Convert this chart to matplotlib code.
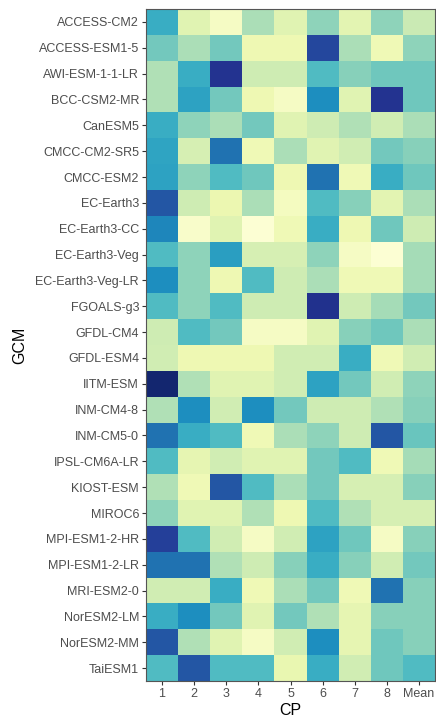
import matplotlib
matplotlib.use("Agg")
import matplotlib.pyplot as plt
import numpy as np

plt.rcParams['font.family'] = ['Liberation Sans', 'DejaVu Sans']

gcms = ["ACCESS-CM2", "ACCESS-ESM1-5", "AWI-ESM-1-1-LR", "BCC-CSM2-MR", "CanESM5",
        "CMCC-CM2-SR5", "CMCC-ESM2", "EC-Earth3", "EC-Earth3-CC", "EC-Earth3-Veg",
        "EC-Earth3-Veg-LR", "FGOALS-g3", "GFDL-CM4", "GFDL-ESM4", "IITM-ESM",
        "INM-CM4-8", "INM-CM5-0", "IPSL-CM6A-LR", "KIOST-ESM", "MIROC6",
        "MPI-ESM1-2-HR", "MPI-ESM1-2-LR", "MRI-ESM2-0", "NorESM2-LM", "NorESM2-MM",
        "TaiESM1"]
cps = ["1", "2", "3", "4", "5", "6", "7", "8", "Mean"]

values = [
    [0.53, 0.17, 0.07, 0.30, 0.17, 0.35, 0.16, 0.35, 0.24],  # ACCESS-CM2
    [0.40, 0.30, 0.40, 0.12, 0.12, 0.82, 0.30, 0.11, 0.35],  # ACCESS-ESM1-5
    [0.29, 0.53, 0.88, 0.23, 0.23, 0.47, 0.36, 0.41, 0.41],  # AWI-ESM-1-1-LR
    [0.29, 0.57, 0.40, 0.12, 0.07, 0.63, 0.17, 0.88, 0.41],  # BCC-CSM2-MR
    [0.53, 0.35, 0.30, 0.40, 0.17, 0.23, 0.29, 0.22, 0.30],  # CanESM5
    [0.56, 0.20, 0.70, 0.11, 0.30, 0.17, 0.22, 0.40, 0.36],  # CMCC-CM2-SR5
    [0.57, 0.35, 0.47, 0.41, 0.12, 0.70, 0.11, 0.53, 0.41],  # CMCC-ESM2
    [0.77, 0.23, 0.13, 0.30, 0.08, 0.47, 0.36, 0.16, 0.30],  # EC-Earth3
    [0.65, 0.05, 0.17, 0.02, 0.11, 0.53, 0.12, 0.41, 0.23],  # EC-Earth3-CC
    [0.47, 0.35, 0.58, 0.20, 0.20, 0.35, 0.07, 0.02, 0.31],  # EC-Earth3-Veg
    [0.63, 0.35, 0.12, 0.47, 0.23, 0.30, 0.11, 0.11, 0.31],  # EC-Earth3-Veg-LR
    [0.47, 0.35, 0.47, 0.23, 0.23, 0.89, 0.23, 0.31, 0.40],  # FGOALS-g3
    [0.23, 0.47, 0.40, 0.07, 0.07, 0.17, 0.36, 0.41, 0.30],  # GFDL-CM4
    [0.22, 0.12, 0.12, 0.12, 0.22, 0.22, 0.53, 0.11, 0.22],  # GFDL-ESM4
    [0.95, 0.29, 0.17, 0.17, 0.22, 0.57, 0.40, 0.22, 0.35],  # IITM-ESM
    [0.29, 0.63, 0.22, 0.63, 0.40, 0.23, 0.23, 0.29, 0.36],  # INM-CM4-8
    [0.70, 0.53, 0.47, 0.11, 0.30, 0.35, 0.23, 0.77, 0.42],  # INM-CM5-0
    [0.47, 0.15, 0.22, 0.17, 0.17, 0.40, 0.47, 0.11, 0.31],  # IPSL-CM6A-LR
    [0.29, 0.11, 0.77, 0.47, 0.30, 0.40, 0.20, 0.20, 0.36],  # KIOST-ESM
    [0.35, 0.17, 0.17, 0.29, 0.12, 0.47, 0.29, 0.20, 0.20],  # MIROC6
    [0.84, 0.47, 0.22, 0.07, 0.22, 0.57, 0.41, 0.07, 0.36],  # MPI-ESM1-2-HR
    [0.70, 0.70, 0.29, 0.23, 0.36, 0.53, 0.36, 0.22, 0.40],  # MPI-ESM1-2-LR
    [0.22, 0.22, 0.53, 0.11, 0.30, 0.40, 0.11, 0.70, 0.36],  # MRI-ESM2-0
    [0.53, 0.63, 0.40, 0.17, 0.40, 0.29, 0.15, 0.36, 0.36],  # NorESM2-LM
    [0.77, 0.29, 0.17, 0.07, 0.22, 0.63, 0.15, 0.41, 0.36],  # NorESM2-MM
    [0.47, 0.77, 0.47, 0.47, 0.14, 0.53, 0.22, 0.41, 0.47],  # TaiESM1
]

data = np.array(values)

fig = plt.figure(figsize=(4.36, 7.2), dpi=100)
ax = fig.add_axes([146/436, 1 - 681/720, (435-146)/436, (681-9)/720])
ax.pcolormesh(np.arange(len(cps)+1)-0.5, np.arange(len(gcms)+1)-0.5, data,
              cmap="YlGnBu", vmin=0, vmax=1, shading="flat", edgecolors="none")
ax.set_xlim(-0.5, len(cps)-0.5)
ax.set_ylim(len(gcms)-0.5, -0.5)
ax.set_xticks(range(len(cps)))
ax.set_xticklabels(cps)
ax.set_yticks(range(len(gcms)))
ax.set_yticklabels(gcms)
ax.tick_params(axis='both', colors='#333333', labelcolor='#4d4d4d',
               labelsize=9, length=3, width=0.8, pad=2)
for s in ax.spines.values():
    s.set_color('#555555')
    s.set_linewidth(0.8)
ax.set_xlabel("CP", fontsize=11.5, color='black', labelpad=2)
ax.set_ylabel("GCM", fontsize=11.5, color='black', labelpad=6)

fig.savefig("out.png", dpi=100)
